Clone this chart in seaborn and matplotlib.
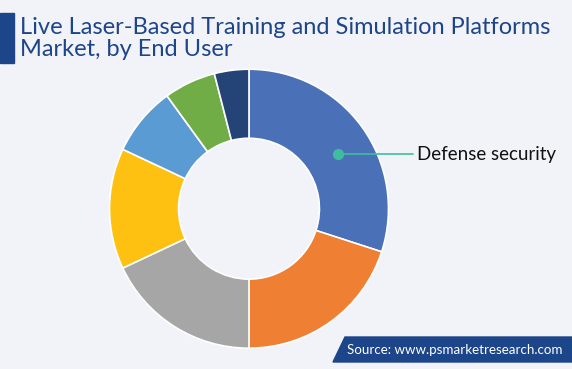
import matplotlib
matplotlib.use("Agg")
import matplotlib.pyplot as plt
import seaborn as sns
from matplotlib.patches import Polygon, Rectangle

# data (share of market, %), clockwise from 12 o'clock
end_users = ["Defense security", "Homeland security", "Law enforcement",
             "Commercial", "Training centers", "Research", "Others"]
shares = [30, 20, 18, 14, 8, 6, 4]
colors = ["#4a71b8", "#ee7f33", "#a5a6a5", "#fec111", "#5b9bd4", "#70ad47", "#244478"]

bg = "#f2f3f8"
navy = "#1d4589"

sns.set_theme(style="white")
plt.rcParams["font.family"] = ["Lato", "DejaVu Sans"]

fig = plt.figure(figsize=(5.72, 3.69), dpi=100, facecolor=bg)

# donut
ax = fig.add_axes([0.1914, 0.0564, 0.4878, 0.756])
ax.set_facecolor(bg)
wedges, _ = ax.pie(shares, colors=colors, startangle=90, counterclock=False,
                   radius=1.0, wedgeprops=dict(width=0.495, edgecolor="white", linewidth=1.2))
ax.set_xlim(-1, 1)
ax.set_ylim(-1, 1)
ax.set_aspect("equal")
ax.axis("off")

# label for the largest slice
ax.plot([0.636, 1.176], [0.392, 0.392], color="#3dbf9e", lw=1.2, clip_on=False)
ax.plot(0.636, 0.392, "o", color="#3dbf9e", ms=7, clip_on=False)
ax.text(1.204, 0.392, end_users[0], fontsize=13.5, color="#111111",
        va="center", ha="left", clip_on=False)

# title block
fig.patches.append(Rectangle((0, 1 - 63 / 369), 14 / 572, 50 / 369,
                             transform=fig.transFigure, color=navy))
fig.text(20 / 572, 1 - 28 / 369, "Live Laser-Based Training and Simulation Platforms",
         fontsize=17, color=navy, va="center", ha="left")
fig.text(20 / 572, 1 - 50 / 369, "Market, by End User",
         fontsize=17, color=navy, va="center", ha="left")

# source banner
pts = [(333 / 572, 1 - 362 / 369), (345 / 572, 1 - 337 / 369),
       (1, 1 - 337 / 369), (1, 1 - 362 / 369)]
fig.patches.append(Polygon(pts, closed=True, transform=fig.transFigure,
                           color=navy))
fig.text(347 / 572, 1 - 350 / 369, "Source: www.psmarketresearch.com",
         fontsize=9.6, color="white", va="center", ha="left")

fig.savefig("out.png", dpi=100, facecolor=bg)
